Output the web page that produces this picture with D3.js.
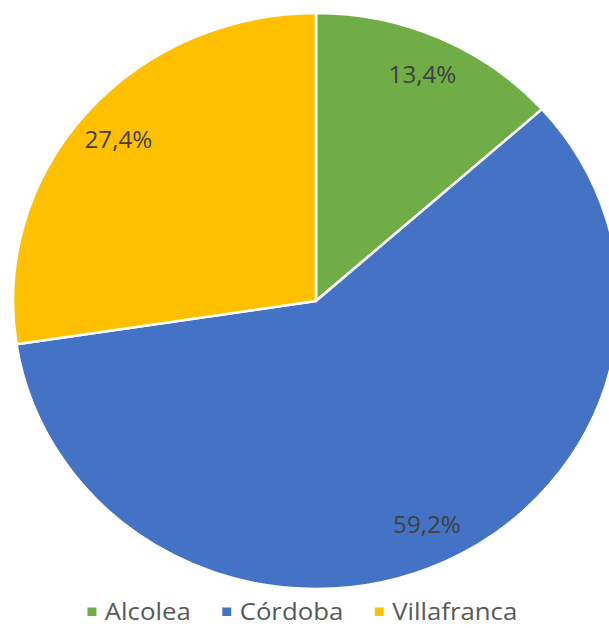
<!DOCTYPE html>
<html>
<head>
<meta charset="utf-8">
<script src="https://cdn.jsdelivr.net/npm/d3@7"></script>
<style>
  html, body { margin: 0; padding: 0; background: #ffffff; }
  svg { display: block; }
</style>
</head>
<body>
<svg id="chart" width="609" height="628"></svg>
<script>
const categories = ["Alcolea", "Córdoba", "Villafranca"];
const values = [13.4, 59.2, 27.4];
const colors = ["#70AD47", "#4472C4", "#FFC000"];
const labels = ["13,4%", "59,2%", "27,4%"];

const W = 609, H = 628;
const sx = 303 / 288;           // horizontal stretch of the reference image
const radius = 288;
const cx = 316 / sx, cy = 301;

const svg = d3.select("#chart");
const root = svg.append("g").attr("transform", `scale(${sx},1)`);

const data = categories.map((c, i) => ({ name: c, value: values[i], color: colors[i], label: labels[i] }));

const pie = d3.pie().sort(null).value(d => d.value);
const arcs = pie(data);
const arc = d3.arc().innerRadius(0).outerRadius(radius);
const labelArc = d3.arc().innerRadius(radius * 0.86).outerRadius(radius * 0.86);

const pg = root.append("g").attr("transform", `translate(${cx},${cy})`);

pg.selectAll("path.slice")
  .data(arcs)
  .enter().append("path")
  .attr("class", "slice")
  .attr("d", arc)
  .attr("fill", d => d.data.color)
  .attr("stroke", "#ffffff")
  .attr("stroke-width", 2.5)
  .attr("stroke-linejoin", "round");

pg.selectAll("text.lbl")
  .data(arcs)
  .enter().append("text")
  .attr("class", "lbl")
  .attr("transform", d => `translate(${labelArc.centroid(d)})`)
  .attr("text-anchor", "middle")
  .attr("dy", "0.35em")
  .attr("font-family", "'Open Sans', 'Noto Sans', sans-serif")
  .attr("font-size", 23)
  .attr("fill", "#404040")
  .text(d => d.data.label);

// Legend
const lg = root.append("g");
const sq = 8.5, gapText = 8, gapItem = 30;
const baseline = 620;
const items = lg.selectAll("g.item").data(data).enter().append("g").attr("class", "item");
items.append("rect")
  .attr("width", sq).attr("height", sq)
  .attr("y", baseline - 12.5)
  .attr("fill", d => d.color);
items.append("text")
  .attr("y", baseline)
  .attr("font-family", "'Open Sans', 'Noto Sans', sans-serif")
  .attr("font-size", 24.5)
  .attr("fill", "#595959")
  .text(d => d.name);

let x = 0;
const pos = [];
items.each(function() {
  const t = d3.select(this).select("text").node().getComputedTextLength();
  pos.push(x);
  x += sq + gapText + t + gapItem;
});
const totalW = x - gapItem;
const startX = 287.4 - totalW / 2;
items.each(function(d, i) {
  const g = d3.select(this);
  g.select("rect").attr("x", startX + pos[i]);
  g.select("text").attr("x", startX + pos[i] + sq + gapText);
});
</script>
</body>
</html>
